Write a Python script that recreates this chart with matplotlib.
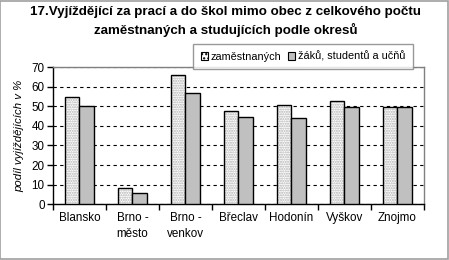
import matplotlib
matplotlib.use("Agg")
import matplotlib.pyplot as plt
import numpy as np
from matplotlib.patches import Rectangle

plt.rcParams['font.family'] = ['Liberation Sans', 'DejaVu Sans']
plt.rcParams['hatch.linewidth'] = 1.0

okresy = ["Blansko", "Brno -\nměsto", "Brno -\nvenkov", "Břeclav", "Hodonín", "Vyškov", "Znojmo"]
zamestnanych = [54.6, 8.2, 66.0, 47.4, 50.5, 52.6, 49.5]
zaku = [50.0, 5.6, 56.7, 44.4, 43.9, 49.7, 49.5]
legend_labels = ["zaměstnaných", "žáků, studentů a učňů"]
title = "17.Vyjíždějící za prací a do škol mimo obec z celkového počtu\nzaměstnaných a studujících podle okresů"
ylabel = "podíl vyjíždějících v %"

fig = plt.figure(figsize=(4.49, 2.60), dpi=100)
fig.patch.set_facecolor("white")
# outer gray frame of the chart
fig.add_artist(Rectangle((0.001, 0.002), 0.997, 0.995, transform=fig.transFigure,
                         fill=False, edgecolor="#a0a0a0", linewidth=1.2))

ax = fig.add_axes([0.118, 0.215, 0.826, 0.526])
x = np.arange(len(okresy))
w = 0.28

# hatched light bars: dots first, black outline on top
ax.bar(x - w / 2, zamestnanych, w, color="white", edgecolor="#b0b0b0", hatch=".......",
       linewidth=0, zorder=3)
ax.bar(x - w / 2, zamestnanych, w, color="none", edgecolor="black", linewidth=1.0, zorder=4)
ax.bar(x + w / 2, zaku, w, color="#c0c0c0", edgecolor="black", linewidth=1.0, zorder=4)

ax.set_xlim(-0.5, len(okresy) - 0.5)
ax.set_ylim(0, 70)
ax.set_yticks(range(0, 71, 10))
ax.yaxis.grid(True, linestyle=(0, (3, 3)), color="black", linewidth=0.8)
ax.set_axisbelow(True)

ax.set_xticks(x)
ax.set_xticklabels(okresy, fontsize=8.4, linespacing=1.35)
ax.set_xticks(np.arange(-0.5, len(okresy), 1), minor=True)
ax.tick_params(axis="x", which="major", length=0, pad=6)
ax.tick_params(axis="x", which="minor", length=4, direction="out", width=1)
ax.tick_params(axis="y", length=4, direction="out", labelsize=8.4, pad=2, width=1)

for s in ["top", "right"]:
    ax.spines[s].set_color("#808080")
    ax.spines[s].set_linewidth(1.0)
for s in ["left", "bottom"]:
    ax.spines[s].set_color("black")
    ax.spines[s].set_linewidth(1.0)

ax.set_ylabel(ylabel, fontsize=8.2, style="italic", labelpad=5)

fig.text(0.503, 0.975, title, ha="center", va="top", fontsize=9.6, fontweight="bold",
         linespacing=1.45)

h1 = Rectangle((0, 0), 1, 1, facecolor="white", edgecolor="black", hatch="....", linewidth=0.8)
h2 = Rectangle((0, 0), 1, 1, facecolor="#c0c0c0", edgecolor="black", linewidth=0.8)
leg = fig.legend([h1, h2], legend_labels, ncol=2, loc="upper left",
                 bbox_to_anchor=(0.43, 0.831), borderaxespad=0, fontsize=7.8, frameon=True,
                 fancybox=False, edgecolor="#808080", handlelength=0.65, handleheight=0.7,
                 handletextpad=0.3, columnspacing=0.6, borderpad=0.7)
leg.get_frame().set_linewidth(1.0)

fig.savefig("out.png", dpi=100, facecolor="white")
